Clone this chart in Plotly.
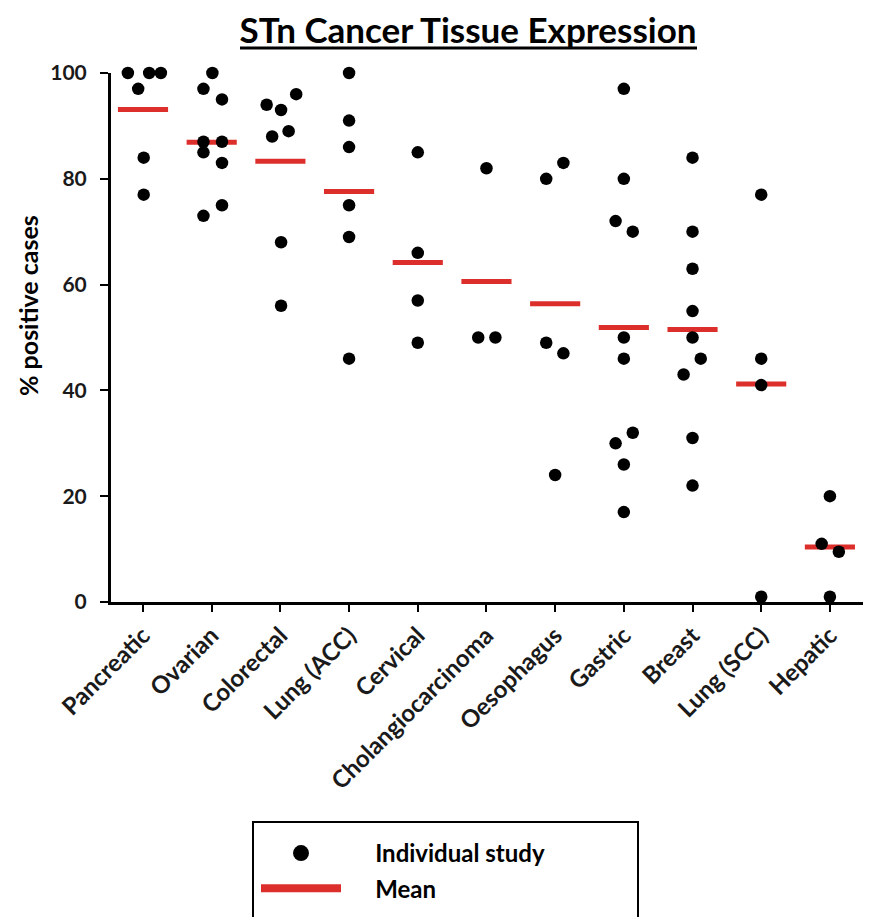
import plotly.graph_objects as go

# ---------------- data ----------------
categories = ["Pancreatic", "Ovarian", "Colorectal", "Lung (ACC)", "Cervical",
              "Cholangiocarcinoma", "Oesophagus", "Gastric", "Breast",
              "Lung (SCC)", "Hepatic"]

pancreatic = [100, 97, 100, 100, 84, 77]
ovarian = [100, 97, 95, 87, 87, 85, 83, 73, 75]
colorectal = [94, 93, 96, 88, 89, 68, 56]
lung_acc = [100, 91, 86, 75, 69, 46]
cervical = [85, 66, 57, 49]
cholangiocarcinoma = [82, 50, 50]
oesophagus = [80, 83, 49, 47, 24]
gastric = [97, 80, 72, 70, 50, 46, 30, 32, 26, 17]
breast = [84, 70, 63, 55, 50, 46, 43, 31, 22]
lung_scc = [77, 46, 41, 1]
hepatic = [20, 11, 9.5, 1]

mean_values = [93.1, 86.9, 83.3, 77.6, 64.2, 60.6, 56.4, 51.9, 51.5, 41.2, 10.4]

y_ticks = [0, 20, 40, 60, 80, 100]

study_series = [pancreatic, ovarian, colorectal, lung_acc, cervical,
                cholangiocarcinoma, oesophagus, gastric, breast, lung_scc, hepatic]

# ---------------- layout / placement (horizontal scatter of dots) ----------------
dot_spread = [
    [-0.22, -0.07, 0.09, 0.26, 0.01, 0.01],
    [0.01, -0.12, 0.15, -0.12, 0.15, -0.12, 0.15, -0.12, 0.15],
    [-0.20, 0.01, 0.23, -0.12, 0.12, 0.01, 0.01],
    [0, 0, 0, 0, 0, 0],
    [0, 0, 0, 0],
    [0, -0.12, 0.13],
    [-0.13, 0.12, -0.13, 0.12, 0],
    [0, 0, -0.12, 0.13, 0, 0, -0.12, 0.13, 0, 0],
    [0, 0, 0, 0, 0, 0.12, -0.13, 0, 0],
    [0, 0, 0, 0],
    [0, -0.12, 0.13, 0],
]
MEAN_HALF = 0.365
RED = "#dc2f2b"
FONT = "Lato"
NB = "\u00a0"

dot_x, dot_y = [], []
for i, (vals, offs) in enumerate(zip(study_series, dot_spread)):
    for v, o in zip(vals, offs):
        dot_x.append(i + o)
        dot_y.append(v)

mean_x, mean_y = [], []
for i, m in enumerate(mean_values):
    mean_x += [i - MEAN_HALF, i + MEAN_HALF, None]
    mean_y += [m, m, None]

fig = go.Figure()
fig.add_trace(go.Scatter(x=mean_x, y=mean_y, mode="lines",
                         line=dict(color=RED, width=5), showlegend=False,
                         cliponaxis=False, hoverinfo="skip"))
fig.add_trace(go.Scatter(x=dot_x, y=dot_y, mode="markers",
                         marker=dict(color="black", size=12.5), showlegend=False,
                         cliponaxis=False))
# legend keys
fig.add_trace(go.Scatter(x=[None], y=[None], mode="markers",
                         name=NB * 5 + "Individual study",
                         marker=dict(color="black", size=16), legendgroup="a"))
fig.add_trace(go.Scatter(x=[None], y=[None], mode="lines", name=NB * 5 + "Mean",
                         line=dict(color=RED, width=8), legendgroup="b"))

# page has an 8px body margin; plot area placed in page coords
OFF = 8
PL, PR, PT, PB = 111, 867, 73, 602          # plot area in page pixels
W, H = 871 - OFF, 917 - OFF
L, R, T, B = PL - OFF, W - (PR - OFF), PT - OFF, H - (PB - OFF)


def px(xp):
    return (xp - PL) / (PR - PL)


def py(yp):
    return (PB - yp) / (PB - PT)


fig.update_layout(
    width=W, height=H,
    margin=dict(l=L, r=R, t=T, b=B, autoexpand=False),
    paper_bgcolor="white", plot_bgcolor="white",
    font=dict(family=FONT, color="#111111"),
    title=dict(text="STn Cancer Tissue Expression",
               font=dict(family=FONT, size=35, weight="bold", color="black"),
               x=(468 - OFF) / W, xanchor="center", xref="container",
               y=1 - (31 - OFF) / H, yanchor="middle", yref="container"),
    xaxis=dict(range=[-0.466, 10.54], tickmode="array",
               tickvals=list(range(len(categories))), ticktext=categories,
               tickangle=-45, ticks="outside", ticklen=7, tickwidth=2,
               tickcolor="black", showline=True, linecolor="black", linewidth=3,
               showgrid=False, zeroline=False,
               tickfont=dict(family=FONT, size=24, weight="bold", color="#1a1a1a")),
    yaxis=dict(range=[0, 100], tickmode="array", tickvals=y_ticks,
               ticks="outside", ticklen=8, tickwidth=2, tickcolor="black",
               showline=True, linecolor="black", linewidth=3,
               showgrid=False, zeroline=False, ticklabelstandoff=9,
               tickfont=dict(family=FONT, size=21, weight="bold", color="#1a1a1a")),
    legend=dict(x=px(256), y=py(831), xanchor="left", yanchor="top",
                xref="paper", yref="paper",
                font=dict(family=FONT, size=24, weight="bold", color="black"),
                itemwidth=80, traceorder="grouped", tracegroupgap=1,
                bgcolor="rgba(0,0,0,0)", borderwidth=0),
    shapes=[
        dict(type="rect", xref="paper", yref="paper",
             x0=px(253), x1=px(638), y0=py(930), y1=py(822),
             line=dict(color="black", width=2), fillcolor="rgba(0,0,0,0)"),
        dict(type="line", xref="paper", yref="paper",
             x0=px(240), x1=px(697), y0=py(48), y1=py(48),
             line=dict(color="black", width=3)),
    ],
    annotations=[
        dict(text="% positive cases", xref="paper", yref="paper",
             x=px(28), y=py(306), xanchor="center", yanchor="middle",
             textangle=-90, showarrow=False,
             font=dict(family=FONT, size=25, weight="bold", color="black")),
    ],
    showlegend=True,
)

fig.write_html("out.html")
